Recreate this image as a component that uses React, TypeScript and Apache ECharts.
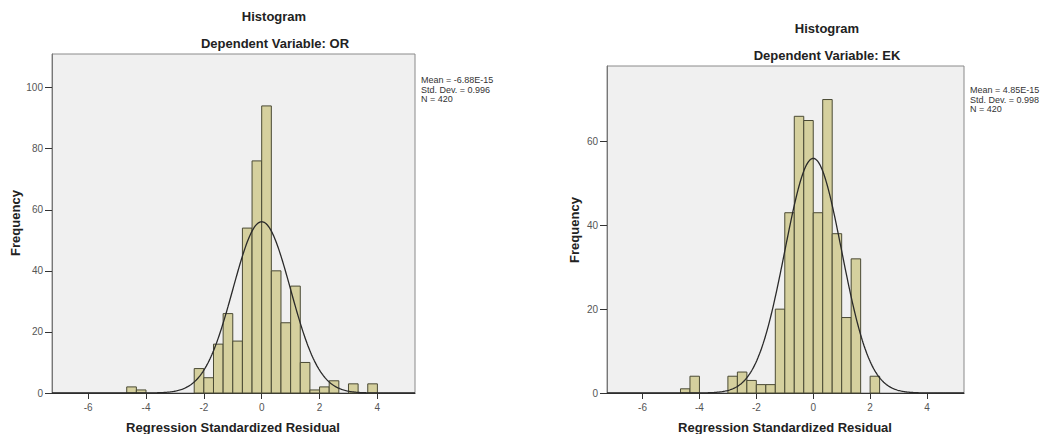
import React, { useEffect, useRef } from "react";
import * as echarts from "echarts";

// ---- data ----
const binWidth = 1 / 3;
const xTickValues = [-6, -4, -2, 0, 2, 4];

// Left histogram: Dependent Variable OR
const orFirstBin = -14; // first bin starts at -14 * binWidth
const orCounts = [2, 1, 0, 0, 0, 0, 0, 8, 5, 16, 26, 17, 54, 76, 94, 40, 23, 35, 10, 1, 2, 4, 0, 3, 0, 3];
const orYTicks = [0, 20, 40, 60, 80, 100];
const orStats = { mean: -6.88e-15, sd: 0.996, n: 420 };
const orStatText = ["Mean = -6.88E-15", "Std. Dev. = 0.996", "N = 420"];

// Right histogram: Dependent Variable EK
const ekFirstBin = -14;
const ekCounts = [1, 4, 0, 0, 0, 4, 5, 3, 2, 2, 20, 43, 66, 65, 43, 70, 38, 18, 32, 0, 4];
const ekYTicks = [0, 20, 40, 60];
const ekStats = { mean: 4.85e-15, sd: 0.998, n: 420 };
const ekStatText = ["Mean = 4.85E-15", "Std. Dev. = 0.998", "N = 420"];

const FONT = 'Arial, "Liberation Sans", sans-serif';

function binsData(first: number, counts: number[]) {
  return counts.map((c, i) => [(first + i) * binWidth, (first + i + 1) * binWidth, c]);
}

function normalCurve(stats: { mean: number; sd: number; n: number }, xmin: number, xmax: number) {
  const pts: number[][] = [];
  const k = (stats.n * binWidth) / (stats.sd * Math.sqrt(2 * Math.PI));
  const steps = 400;
  for (let i = 0; i <= steps; i++) {
    const x = xmin + ((xmax - xmin) * i) / steps;
    const z = (x - stats.mean) / stats.sd;
    pts.push([x, k * Math.exp(-0.5 * z * z)]);
  }
  return pts;
}

const X_MIN = -7.25;
const X_MAX = 5.3;

export default function App() {
  const ref = useRef<HTMLDivElement>(null);
  useEffect(() => {
    if (!ref.current) return;
    const chart = echarts.init(ref.current, undefined, { renderer: "svg" });

    const renderBar = (params: any, api: any) => {
      const x0 = api.value(0);
      const x1 = api.value(1);
      const c = api.value(2);
      if (!c) return null;
      const p0 = api.coord([x0, c]);
      const p1 = api.coord([x1, 0]);
      return {
        type: "rect",
        shape: { x: p0[0], y: p0[1], width: p1[0] - p0[0], height: p1[1] - p0[1] },
        style: { fill: "#d5d09e", stroke: "#4a4a34", lineWidth: 1 },
      };
    };

    const xAxisCfg = (gridIndex: number) => ({
      type: "value",
      gridIndex,
      min: X_MIN,
      max: X_MAX,
      splitLine: { show: false },
      axisLine: { show: true, onZero: false, lineStyle: { color: "#333", width: 1.2 } },
      axisTick: { show: true, customValues: xTickValues, length: 6, lineStyle: { color: "#333" } },
      axisLabel: { customValues: xTickValues, fontSize: 10, color: "#555", fontFamily: FONT, margin: 9 },
    });
    const yAxisCfg = (gridIndex: number, max: number, ticks: number[]) => ({
      type: "value",
      gridIndex,
      min: 0,
      max,
      splitLine: { show: false },
      axisLine: { show: true, onZero: false, lineStyle: { color: "#777" } },
      axisTick: { show: true, customValues: ticks, length: 7, lineStyle: { color: "#333" } },
      axisLabel: { customValues: ticks, fontSize: 10, color: "#555", fontFamily: FONT, margin: 9 },
    });

    const text = (str: string, x: number, y: number, size: number, bold = true, extra: any = {}) => ({
      type: "text",
      x,
      y,
      style: {
        text: str,
        fontSize: size,
        fontWeight: bold ? "bold" : "normal",
        fontFamily: FONT,
        fill: "#222",
        align: "center",
        verticalAlign: "middle",
      },
      ...extra,
    });

    chart.setOption({
      animation: false,
      backgroundColor: "#ffffff",
      grid: [
        { left: 52, top: 54, width: 363, height: 339, show: true, backgroundColor: "#f0f0f0", borderColor: "#8a8a8a", borderWidth: 1 },
        { left: 607, top: 66, width: 357, height: 327, show: true, backgroundColor: "#f0f0f0", borderColor: "#8a8a8a", borderWidth: 1 },
      ],
      xAxis: [xAxisCfg(0), xAxisCfg(1)],
      yAxis: [yAxisCfg(0, 111, orYTicks), yAxisCfg(1, 78, ekYTicks)],
      series: [
        {
          type: "custom",
          xAxisIndex: 0,
          yAxisIndex: 0,
          renderItem: renderBar,
          encode: { x: [0, 1], y: 2 },
          data: binsData(orFirstBin, orCounts),
        },
        {
          type: "line",
          xAxisIndex: 0,
          yAxisIndex: 0,
          showSymbol: false,
          symbol: "none",
          lineStyle: { color: "#2a2a2a", width: 1.3 },
          data: normalCurve(orStats, X_MIN, X_MAX),
          z: 3,
        },
        {
          type: "custom",
          xAxisIndex: 1,
          yAxisIndex: 1,
          renderItem: renderBar,
          encode: { x: [0, 1], y: 2 },
          data: binsData(ekFirstBin, ekCounts),
        },
        {
          type: "line",
          xAxisIndex: 1,
          yAxisIndex: 1,
          showSymbol: false,
          symbol: "none",
          lineStyle: { color: "#2a2a2a", width: 1.3 },
          data: normalCurve(ekStats, X_MIN, X_MAX),
          z: 3,
        },
      ],
      graphic: [
        text("Histogram", 274, 16, 13),
        text("Dependent Variable: OR", 275, 43, 13),
        text("Frequency", 15, 223, 13, true, { rotation: Math.PI / 2 }),
        text("Regression Standardized Residual", 233, 427, 13),
        {
          type: "text",
          x: 421,
          y: 75,
          style: { text: orStatText.join("\n"), fontSize: 9, lineHeight: 9.7, fontFamily: FONT, fill: "#333", align: "left", verticalAlign: "top" },
        },
        text("Histogram", 827, 28, 13),
        text("Dependent Variable: EK", 827, 55, 13),
        text("Frequency", 574, 230, 13, true, { rotation: Math.PI / 2 }),
        text("Regression Standardized Residual", 785, 427, 13),
        {
          type: "text",
          x: 970,
          y: 85,
          style: { text: ekStatText.join("\n"), fontSize: 9, lineHeight: 9.7, fontFamily: FONT, fill: "#333", align: "left", verticalAlign: "top" },
        },
      ],
    });
    return () => chart.dispose();
  }, []);
  return <div ref={ref} style={{ position: "fixed", left: 0, top: 0, width: 1041, height: 434 }} />;
}
